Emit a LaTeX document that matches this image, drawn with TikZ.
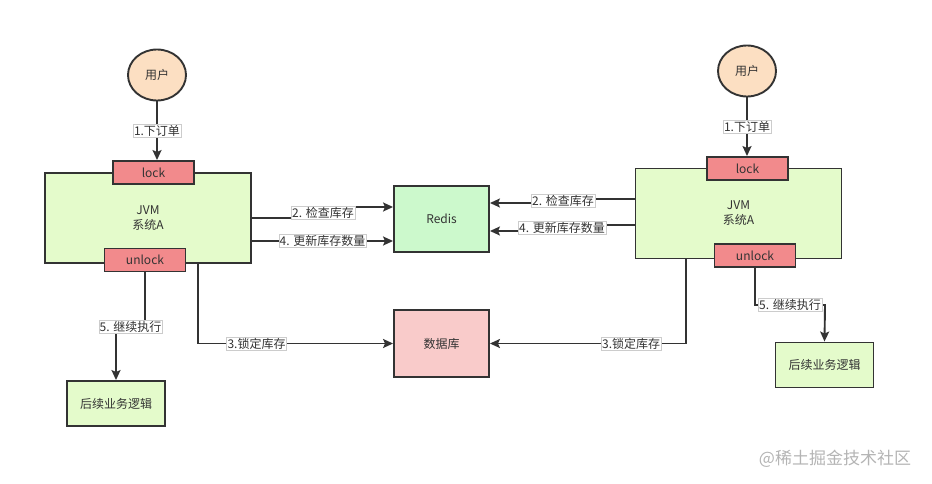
\documentclass[tikz,border=0pt]{standalone}
\usepackage{fontspec}
\setmainfont{Noto Sans CJK SC}
\usepackage{tikz}
\usetikzlibrary{arrows.meta,shapes.geometric}

\definecolor{lineC}{HTML}{333333}
\definecolor{textC}{HTML}{333333}
\definecolor{userC}{HTML}{FCDFC2}
\definecolor{lockC}{HTML}{F28A8C}
\definecolor{jvmC}{HTML}{E4FBCB}
\definecolor{redisC}{HTML}{CCF9CC}
\definecolor{dbC}{HTML}{F9CBCA}
\definecolor{markC}{HTML}{B4B4B4}

\begin{document}
\begin{tikzpicture}[x=1pt,y=-1pt,>={Stealth[length=10pt,width=9pt,inset=2pt]},
    line width=1.9pt,draw=lineC,font=\fontsize{12}{15}\selectfont,
    box/.style={draw=lineC,line width=1.9pt,inner sep=0pt,text=textC,align=center},
    user/.style={box,ellipse,fill=userC,minimum width=58pt,minimum height=51pt},
    jvm/.style={box,fill=jvmC,minimum width=206pt,minimum height=90pt},
    lockbox/.style={box,fill=lockC,minimum width=81pt,minimum height=23pt},
    endbox/.style={box,fill=jvmC,minimum width=98pt,minimum height=45pt},
    redisbox/.style={box,fill=redisC,minimum width=95pt,minimum height=66pt},
    dbbox/.style={box,fill=dbC,minimum width=95pt,minimum height=67pt},
    lbl/.style={fill=white,draw=gray!40,line width=0.4pt,inner sep=1pt,text=textC},
    wmark/.style={text=markC,font=\fontsize{17}{20}\selectfont}]
  \useasboundingbox (0,0) rectangle (932,484);

  \node[user]     (userL)   at (157,75)      {用户};
  \node[jvm]      (jvmL)    at (148,218)     {JVM\\系统A};
  \node[lockbox]  (lockL)   at (153.5,172.5) {lock};
  \node[lockbox]  (unlockL) at (145,260)     {unlock};
  \node[endbox]   (endL)    at (116,403.5)   {后续业务逻辑};
  \node[redisbox] (redis)   at (441.5,219)   {Redis};
  \node[dbbox]    (db)      at (441.5,343.5) {数据库};
  \node[jvm]      (jvmR)    at (738.5,213.5) {JVM\\系统A};
  \node[lockbox]  (lockR)   at (747.5,168.5) {lock};
  \node[lockbox]  (unlockR) at (755,255.5)   {unlock};
  \node[user]     (userR)   at (747,71)      {用户};
  \node[endbox]   (endR)    at (824.5,365)   {后续业务逻辑};
  \node[wmark]    (wm)      at (835,459)     {@稀土掘金技术社区};

  % left system
  \draw[->] (userL.south) -- node[lbl]{1.下订单} (userL.south |- lockL.north);
  \draw[->] (jvmL.east) -- (323,218) -- node[lbl]{2. 检查库存} (323,207) -- (redis.west |- 0,207);
  \draw[->] (jvmL.east |- 0,241) -- node[lbl]{4. 更新库存数量} (redis.west |- 0,241);
  \draw[->] (jvmL.south -| 198,0) |- node[lbl,pos=0.65]{3.锁定库存} (db.west);
  \draw[->] (unlockL.south) -- (145,327) -- node[lbl]{5. 继续执行} (116,327) -- (endL.north);

  % right system
  \draw[->] (userR.south) -- node[lbl]{1.下订单} (userR.south |- lockR.north);
  \draw[->] (jvmR.west |- 0,199) -- (563,199) -- node[lbl]{2. 检查库存} (563,203) -- (redis.east |- 0,203);
  \draw[->] (jvmR.west |- 0,225) -- (562,225) -- node[lbl]{4. 更新库存数量} (562,231) -- (redis.east |- 0,231);
  \draw[->] (jvmR.south -| 686,0) |- node[lbl,pos=0.64]{3.锁定库存} (db.east);
  \draw[->] (unlockR.south) -- (755,305) -- node[lbl]{5. 继续执行} (825,305) -- (endR.north);
\end{tikzpicture}
\end{document}
